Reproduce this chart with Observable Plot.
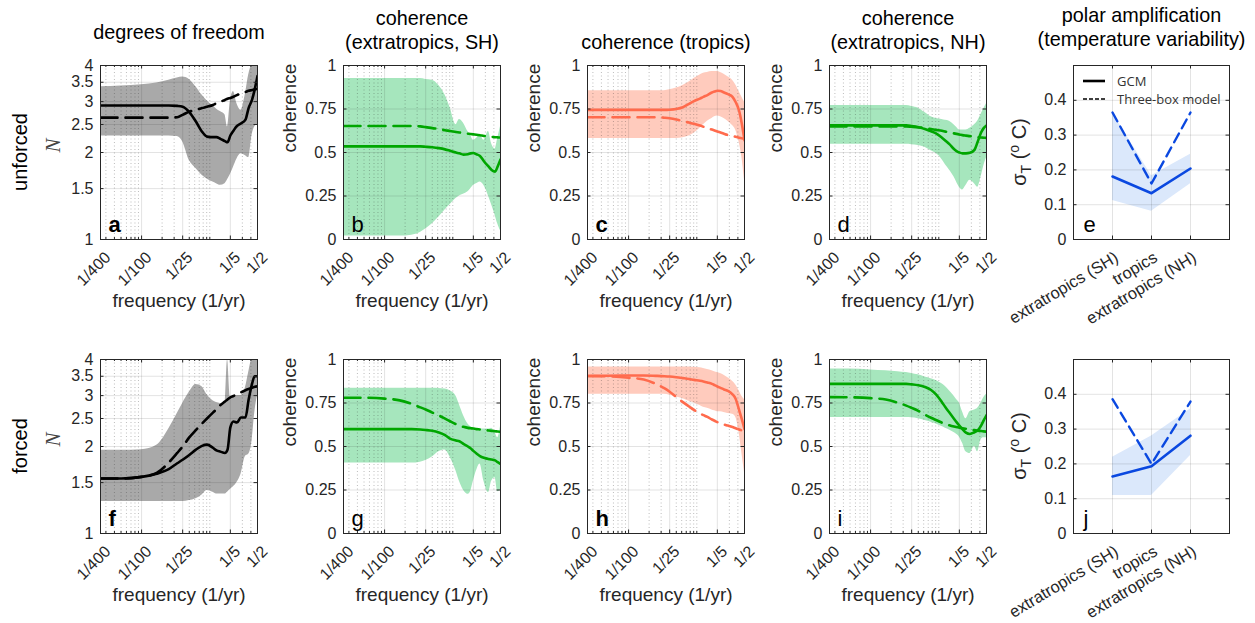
<!DOCTYPE html>
<html><head><meta charset="utf-8">
<script src="https://cdn.jsdelivr.net/npm/d3@7"></script>
<script src="https://cdn.jsdelivr.net/npm/@observablehq/plot@0.6"></script>
<style>
body{margin:0;background:#fff;}
#root{position:relative;width:1255px;height:623px;overflow:hidden;font-family:"Liberation Sans",Arial,Helvetica,sans-serif;background:#fff;}
#root svg{position:absolute;overflow:visible;}
.lbl{position:absolute;white-space:nowrap;color:#000;}
</style></head><body><div id="root"></div>
<script>
// ---------- data ----------
const period = [400,200,100,60,40,30,25,20,16,13,11,9,8,7,6,5.5,5,4.5,4,3.5,3,2.7,2.4,2.2,2];
const freqTicks = [1/400,1/100,1/25,1/5,1/2];
const freqTickLabels = ["1/400","1/100","1/25","1/5","1/2"];
const nTicks = [1,1.5,2,2.5,3,3.5,4];
const nTickLabels = ["1","1.5","2","2.5","3","3.5","4"];
const cohTicks = [0,0.25,0.5,0.75,1];
const cohTickLabels = ["0","0.25","0.5","0.75","1"];
const sigTicks = [0,0.1,0.2,0.3,0.4];
const sigTickLabels = ["0","0.1","0.2","0.3","0.4"];
const regions = ["extratropics (SH)","tropics","extratropics (NH)"];

// (a) unforced degrees of freedom
const aGcm = [2.91,2.91,2.91,2.91,2.91,2.9,2.88,2.76,2.56,2.36,2.27,2.26,2.26,2.23,2.19,2.17,2.29,2.38,2.47,2.52,2.6,2.85,3.05,3.3,3.68];
const aBox = [2.64,2.64,2.64,2.64,2.64,2.65,2.7,2.77,2.81,2.85,2.88,2.92,2.96,3.0,3.04,3.07,3.09,3.12,3.16,3.2,3.24,3.27,3.29,3.31,3.32];
const aLo  = [2.28,2.28,2.28,2.28,2.28,2.27,2.18,1.88,1.76,1.67,1.62,1.58,1.56,1.54,1.56,1.61,1.68,1.78,1.9,1.98,1.95,1.92,2.3,2.45,2.5];
const aHi  = [3.38,3.4,3.43,3.48,3.56,3.62,3.65,3.58,3.38,3.16,3.02,2.9,2.83,2.77,2.7,2.45,3.0,3.25,2.95,2.8,3.2,3.7,4.0,4.0,4.0];
// (b) unforced coherence, extratropics SH
const bGcm = [0.535,0.535,0.535,0.535,0.535,0.535,0.533,0.53,0.525,0.518,0.51,0.5,0.495,0.488,0.49,0.495,0.497,0.49,0.48,0.45,0.42,0.4,0.39,0.42,0.46];
const bBox = [0.652,0.652,0.652,0.652,0.652,0.65,0.646,0.64,0.635,0.628,0.624,0.618,0.615,0.612,0.608,0.606,0.604,0.602,0.599,0.595,0.592,0.59,0.588,0.587,0.586];
const bLo  = [0.02,0.02,0.02,0.02,0.025,0.04,0.06,0.09,0.13,0.17,0.2,0.235,0.25,0.26,0.275,0.29,0.31,0.32,0.33,0.31,0.25,0.2,0.14,0.09,0.05];
const bHi  = [0.925,0.925,0.925,0.925,0.925,0.925,0.92,0.915,0.885,0.83,0.76,0.66,0.69,0.67,0.62,0.6,0.57,0.58,0.6,0.57,0.62,0.55,0.52,0.58,0.65];
// (c) unforced coherence, tropics
const cGcm = [0.745,0.745,0.745,0.745,0.745,0.745,0.746,0.75,0.76,0.78,0.795,0.81,0.82,0.83,0.845,0.85,0.855,0.853,0.845,0.835,0.82,0.79,0.74,0.67,0.57];
const cBox = [0.703,0.703,0.703,0.703,0.703,0.7,0.697,0.69,0.68,0.672,0.665,0.655,0.648,0.64,0.632,0.627,0.621,0.615,0.608,0.6,0.595,0.59,0.585,0.582,0.58];
const cLo  = [0.58,0.58,0.58,0.58,0.58,0.58,0.58,0.58,0.585,0.595,0.61,0.64,0.66,0.68,0.695,0.705,0.71,0.705,0.695,0.68,0.655,0.63,0.56,0.48,0.34];
const cHi  = [0.855,0.855,0.855,0.855,0.855,0.855,0.86,0.87,0.885,0.905,0.925,0.945,0.955,0.96,0.965,0.965,0.965,0.96,0.95,0.935,0.915,0.89,0.85,0.82,0.79];
// (d) unforced coherence, extratropics NH
const dGcm = [0.656,0.656,0.656,0.656,0.656,0.656,0.652,0.645,0.635,0.622,0.61,0.585,0.568,0.548,0.52,0.508,0.5,0.495,0.495,0.498,0.515,0.56,0.615,0.64,0.655];
const dBox = [0.65,0.65,0.65,0.65,0.65,0.65,0.648,0.645,0.64,0.635,0.63,0.625,0.62,0.615,0.61,0.607,0.604,0.6,0.597,0.594,0.59,0.588,0.586,0.585,0.584];
const dLo  = [0.547,0.547,0.547,0.547,0.547,0.547,0.545,0.54,0.53,0.51,0.495,0.46,0.43,0.4,0.36,0.33,0.3,0.285,0.31,0.34,0.32,0.3,0.36,0.42,0.47];
const dHi  = [0.77,0.77,0.77,0.77,0.77,0.77,0.765,0.755,0.73,0.705,0.695,0.69,0.685,0.68,0.66,0.645,0.63,0.63,0.63,0.64,0.66,0.68,0.72,0.75,0.78];
// (e) unforced polar amplification
const eGcm = [0.181,0.133,0.204];
const eBox = [0.365,0.161,0.365];
const eLo  = [0.112,0.081,0.16];
const eHi  = [0.364,0.183,0.245];
// (f) forced degrees of freedom
const fGcm = [1.55,1.55,1.57,1.61,1.67,1.75,1.8,1.87,1.95,2.01,2.03,1.98,1.94,1.92,1.9,1.95,2.33,2.44,2.42,2.52,2.52,2.9,3.3,3.5,3.5];
const fBox = [1.55,1.55,1.57,1.62,1.76,1.9,2.0,2.15,2.28,2.4,2.5,2.62,2.69,2.78,2.86,2.91,2.96,2.99,3.03,3.08,3.13,3.16,3.19,3.22,3.23];
const fLo  = [1.29,1.29,1.29,1.29,1.29,1.29,1.29,1.3,1.32,1.36,1.41,1.39,1.37,1.37,1.37,1.39,1.42,1.45,1.5,1.6,1.85,1.88,2.1,2.6,3.0];
const fHi  = [1.94,1.94,1.95,2.02,2.3,2.6,2.82,3.08,3.28,3.22,3.02,2.88,2.84,2.82,2.8,4.0,2.95,2.97,3.0,3.0,3.2,3.6,4.0,4.0,4.0];
// (g) forced coherence, extratropics SH
const gGcm = [0.6,0.6,0.6,0.6,0.6,0.598,0.595,0.59,0.58,0.565,0.545,0.535,0.53,0.515,0.5,0.49,0.475,0.46,0.445,0.435,0.428,0.425,0.42,0.41,0.4];
const gBox = [0.78,0.78,0.775,0.765,0.745,0.725,0.713,0.695,0.678,0.66,0.645,0.628,0.62,0.613,0.607,0.605,0.603,0.6,0.598,0.595,0.592,0.59,0.588,0.586,0.585];
const gLo  = [0.405,0.405,0.405,0.405,0.405,0.41,0.42,0.44,0.47,0.48,0.44,0.36,0.3,0.25,0.225,0.24,0.3,0.36,0.4,0.3,0.235,0.3,0.32,0.24,0.25];
const gHi  = [0.835,0.835,0.835,0.835,0.835,0.835,0.835,0.835,0.833,0.83,0.82,0.79,0.74,0.68,0.63,0.615,0.605,0.6,0.6,0.6,0.6,0.605,0.58,0.55,0.615];
// (h) forced coherence, tropics
const hGcm = [0.905,0.907,0.908,0.908,0.906,0.904,0.902,0.898,0.893,0.888,0.883,0.878,0.874,0.868,0.86,0.853,0.845,0.837,0.828,0.82,0.8,0.775,0.71,0.66,0.6];
const hBox = [0.905,0.903,0.895,0.885,0.86,0.835,0.815,0.785,0.755,0.73,0.71,0.69,0.68,0.67,0.655,0.648,0.64,0.633,0.626,0.62,0.612,0.605,0.598,0.593,0.59];
const hLo  = [0.8,0.8,0.8,0.8,0.8,0.8,0.795,0.785,0.775,0.76,0.75,0.735,0.725,0.72,0.71,0.705,0.7,0.7,0.695,0.69,0.685,0.67,0.58,0.47,0.35];
const hHi  = [0.957,0.957,0.957,0.957,0.957,0.957,0.957,0.957,0.957,0.957,0.955,0.952,0.948,0.942,0.935,0.93,0.925,0.92,0.91,0.895,0.875,0.855,0.82,0.79,0.77];
// (i) forced coherence, extratropics NH
const iGcm = [0.86,0.86,0.86,0.86,0.86,0.86,0.857,0.852,0.842,0.825,0.8,0.755,0.725,0.695,0.66,0.64,0.62,0.6,0.58,0.572,0.582,0.592,0.62,0.65,0.68];
const iBox = [0.784,0.783,0.778,0.77,0.752,0.735,0.722,0.705,0.683,0.665,0.652,0.637,0.63,0.622,0.615,0.612,0.608,0.605,0.602,0.598,0.594,0.591,0.589,0.587,0.585];
const iLo  = [0.667,0.667,0.667,0.667,0.667,0.667,0.665,0.66,0.65,0.64,0.63,0.615,0.605,0.595,0.58,0.57,0.555,0.52,0.47,0.46,0.5,0.47,0.54,0.55,0.55];
const iHi  = [0.945,0.945,0.94,0.935,0.93,0.925,0.92,0.912,0.9,0.89,0.88,0.86,0.845,0.82,0.79,0.77,0.75,0.7,0.66,0.7,0.71,0.72,0.75,0.78,0.8];
// (j) forced polar amplification
const jGcm = [0.164,0.193,0.281];
const jBox = [0.386,0.2,0.379];
const jLo  = [0.109,0.109,0.224];
const jHi  = [0.219,0.28,0.358];

// ---------- layout / style ----------
const FW = 157, FH = 174, ML = 100, MR = 25, MT = 70, MB = 90;
const colX = [100,343,587,829,1073];
const rowY = [65,359];
const ink = "#262626";
const font = "Liberation Sans, Arial, Helvetica, sans-serif";
const TICKFS = 16, LABFS = 19, TITLEFS = 19.8;
const root = document.getElementById("root");

const minorF = [];
for (const k of [0.001,0.01,0.1]) for (let m = 1; m <= 9; m++) {
  const v = +(m*k).toPrecision(6);
  if (v > 1/400 && v < 1/2 && !freqTicks.some(t => Math.abs(t - v) < 1e-9)) minorF.push(v);
}

function place(svg, left, top) {
  svg.style.left = (left - ML) + "px";
  svg.style.top = (top - MT) + "px";
  root.appendChild(svg);
}

function titleMarks(lines, centers, dx = 0) {
  return lines.map((t, k) => Plot.text([t], {text: d => d, frameAnchor: "top", dx, dy: centers[k], lineAnchor: "middle", fontSize: TITLEFS, fill: "#000"}));
}

function freqPanel(o) {
  const data = period.map((p, i) => ({f: 1/p, lo: o.lo[i], hi: o.hi[i], gcm: o.gcm[i], box: o.box[i]}));
  const marks = [
    Plot.areaY(data, {x: "f", y1: "lo", y2: "hi", fill: o.band, curve: "monotone-x", clip: true}),
    Plot.ruleX(minorF, {stroke: ink, strokeOpacity: 0.3, strokeDasharray: "1,2.5"}),
    Plot.ruleX(freqTicks.slice(1, -1), {stroke: ink, strokeOpacity: 0.13}),
    Plot.ruleY(o.yTicks.slice(1, -1), {stroke: ink, strokeOpacity: 0.13}),
    Plot.line(data, {x: "f", y: "box", stroke: o.color, strokeWidth: 2.6, strokeDasharray: "17,8", curve: "monotone-x", clip: true}),
    Plot.line(data, {x: "f", y: "gcm", stroke: o.color, strokeWidth: 2.6, curve: "monotone-x", clip: true}),
    Plot.tickX(freqTicks, {x: d => d, stroke: ink, insetTop: FH - 3.5}),
    Plot.tickX(freqTicks, {x: d => d, stroke: ink, insetBottom: FH - 3.5}),
    Plot.tickX(minorF, {x: d => d, stroke: ink, insetTop: FH - 2}),
    Plot.tickX(minorF, {x: d => d, stroke: ink, insetBottom: FH - 2}),
    Plot.tickY(o.yTicks, {y: d => d, stroke: ink, insetRight: FW - 3.5}),
    Plot.tickY(o.yTicks, {y: d => d, stroke: ink, insetLeft: FW - 3.5}),
    Plot.frame({stroke: ink}),
    Plot.text(o.yTicks, {y: d => d, text: (d, i) => o.yTickLabels[i], frameAnchor: "left", textAnchor: "end", dx: -7, fontSize: TICKFS, fill: ink}),
    Plot.text(freqTicks, {x: d => d, text: (d, i) => freqTickLabels[i], frameAnchor: "bottom", textAnchor: "end", rotate: -45, dx: 11, dy: 19, fontSize: TICKFS, fill: ink}),
    Plot.text(["frequency (1/yr)"], {text: d => d, frameAnchor: "bottom", dy: 67, fontSize: LABFS, fill: ink}),
    o.italic
      ? Plot.text([o.ylabel], {text: d => d, frameAnchor: "left", dx: -47, rotate: -90, fontSize: 21, fontFamily: "Liberation Serif, serif", fontStyle: "italic", fill: "#444"})
      : Plot.text([o.ylabel], {text: d => d, frameAnchor: "left", dx: -54, rotate: -90, fontSize: LABFS, fill: ink}),
    Plot.text([o.letter], {text: d => d, frameAnchor: "bottom-left", dx: 8, dy: -8, textAnchor: "start", lineAnchor: "bottom", fontSize: 22, fontWeight: o.bold ? "bold" : "normal", fill: "#000"}),
    ...(o.title ? titleMarks(o.title, o.titleY) : [])
  ];
  const svg = Plot.plot({
    width: ML + FW + MR, height: MT + FH + MB,
    marginLeft: ML, marginRight: MR, marginTop: MT, marginBottom: MB,
    x: {type: "log", domain: [1/400, 1/2], axis: null},
    y: {type: o.yType, domain: o.yDomain, axis: null},
    style: {fontFamily: font, background: "transparent", overflow: "visible"},
    marks
  });
  place(svg, o.left, o.top);
}

function catPanel(o) {
  const W = 156;
  const data = regions.map((r, i) => ({r, lo: o.lo[i], hi: o.hi[i], gcm: o.gcm[i], box: o.box[i]}));
  const marks = [
    Plot.areaY(data, {x: "r", y1: "lo", y2: "hi", fill: "#dbe8fb"}),
    Plot.ruleX(regions, {x: d => d, stroke: ink, strokeOpacity: 0.13}),
    Plot.ruleY(sigTicks.slice(1), {stroke: ink, strokeOpacity: 0.13}),
    Plot.line(data, {x: "r", y: "box", stroke: "#0a48e0", strokeWidth: 2.4, strokeDasharray: "10,6"}),
    Plot.line(data, {x: "r", y: "gcm", stroke: "#0a48e0", strokeWidth: 2.6}),
    Plot.tickX(regions, {x: d => d, stroke: ink, insetTop: FH - 3.5}),
    Plot.tickX(regions, {x: d => d, stroke: ink, insetBottom: FH - 3.5}),
    Plot.tickY(sigTicks, {y: d => d, stroke: ink, insetRight: W - 3.5}),
    Plot.tickY(sigTicks, {y: d => d, stroke: ink, insetLeft: W - 3.5}),
    Plot.frame({stroke: ink}),
    Plot.text(sigTicks, {y: d => d, text: (d, i) => sigTickLabels[i], frameAnchor: "left", textAnchor: "end", dx: -7, fontSize: TICKFS, fill: ink}),
    Plot.text(regions, {x: d => d, text: d => d, frameAnchor: "bottom", textAnchor: "end", rotate: -31, dx: 7, dy: 21, fontSize: 16.5, fill: ink}),
    Plot.text([o.letter], {text: d => d, frameAnchor: "bottom-left", dx: 10, dy: -8, textAnchor: "start", lineAnchor: "bottom", fontSize: 22, fill: "#000"}),
    ...(o.title ? titleMarks(o.title, o.titleY, -10) : [])
  ];
  const svg = Plot.plot({
    width: ML + W + MR, height: MT + FH + MB,
    marginLeft: ML, marginRight: MR, marginTop: MT, marginBottom: MB,
    x: {type: "point", domain: regions, padding: 1, axis: null},
    y: {domain: [0, 0.5], axis: null},
    style: {fontFamily: font, background: "transparent", overflow: "visible"},
    marks
  });
  place(svg, o.left, o.top);
  // y label with sub/superscript
  const yl = document.createElement("div");
  yl.className = "lbl";
  yl.style.cssText = `left:${o.left - 53}px;top:${o.top + FH/2}px;transform:translate(-50%,-50%) rotate(-90deg);font-size:20px;color:${ink};`;
  yl.innerHTML = "&sigma;<sub style='font-size:14px'>T</sub> (<sup style='font-size:14px'>o</sup> C)";
  root.appendChild(yl);
}

const GRAY = {band: "#a9a9a9", color: "#000"};
const GREEN = {band: "#a6e6bd", color: "#00a600"};
const RED = {band: "#ffcbbd", color: "#ff6b4d"};

const nAxis = {yType: "log", yDomain: [1, 4], yTicks: nTicks, yTickLabels: nTickLabels, ylabel: "N", italic: true};
const cAxis = {yType: "linear", yDomain: [0, 1], yTicks: cohTicks, yTickLabels: cohTickLabels, ylabel: "coherence"};

freqPanel({...nAxis, ...GRAY, left: colX[0], top: rowY[0], gcm: aGcm, box: aBox, lo: aLo, hi: aHi, letter: "a", bold: true, title: ["degrees of freedom"], titleY: [-33]});
freqPanel({...cAxis, ...GREEN, left: colX[1], top: rowY[0], gcm: bGcm, box: bBox, lo: bLo, hi: bHi, letter: "b", bold: false, title: ["coherence", "(extratropics, SH)"], titleY: [-47, -23]});
freqPanel({...cAxis, ...RED, left: colX[2], top: rowY[0], gcm: cGcm, box: cBox, lo: cLo, hi: cHi, letter: "c", bold: true, title: ["coherence (tropics)"], titleY: [-23]});
freqPanel({...cAxis, ...GREEN, left: colX[3], top: rowY[0], gcm: dGcm, box: dBox, lo: dLo, hi: dHi, letter: "d", bold: false, title: ["coherence", "(extratropics, NH)"], titleY: [-47, -23]});
catPanel({left: colX[4], top: rowY[0], gcm: eGcm, box: eBox, lo: eLo, hi: eHi, letter: "e", title: ["polar amplification", "(temperature variability)"], titleY: [-50, -26]});

freqPanel({...nAxis, ...GRAY, left: colX[0], top: rowY[1], gcm: fGcm, box: fBox, lo: fLo, hi: fHi, letter: "f", bold: true});
freqPanel({...cAxis, ...GREEN, left: colX[1], top: rowY[1], gcm: gGcm, box: gBox, lo: gLo, hi: gHi, letter: "g", bold: false});
freqPanel({...cAxis, ...RED, left: colX[2], top: rowY[1], gcm: hGcm, box: hBox, lo: hLo, hi: hHi, letter: "h", bold: true});
freqPanel({...cAxis, ...GREEN, left: colX[3], top: rowY[1], gcm: iGcm, box: iBox, lo: iLo, hi: iHi, letter: "i", bold: false});
catPanel({left: colX[4], top: rowY[1], gcm: jGcm, box: jBox, lo: jLo, hi: jHi, letter: "j"});

// row labels
for (const [txt, cy] of [["unforced", rowY[0] + FH/2], ["forced", rowY[1] + FH/2]]) {
  const d = document.createElement("div");
  d.className = "lbl";
  d.style.cssText = `left:20px;top:${cy}px;transform:translate(-50%,-50%) rotate(-90deg);font-size:20px;`;
  d.textContent = txt;
  root.appendChild(d);
}

// legend in panel e
const leg = document.createElement("div");
leg.className = "lbl";
leg.style.cssText = `left:1082px;top:72px;font-family:'Open Sans',sans-serif;font-size:13px;color:#333;line-height:18px;`;
leg.innerHTML =
  `<div style="display:flex;align-items:center"><svg width="24" height="18" style="position:static"><line x1="1" x2="23" y1="9" y2="9" stroke="#000" stroke-width="2.6"/></svg><span style="margin-left:11px">GCM</span></div>` +
  `<div style="display:flex;align-items:center"><svg width="24" height="18" style="position:static"><line x1="1" x2="23" y1="9" y2="9" stroke="#000" stroke-width="1.3" stroke-dasharray="4,2"/></svg><span style="margin-left:11px">Three-box model</span></div>`;
root.appendChild(leg);
</script>
</body></html>
